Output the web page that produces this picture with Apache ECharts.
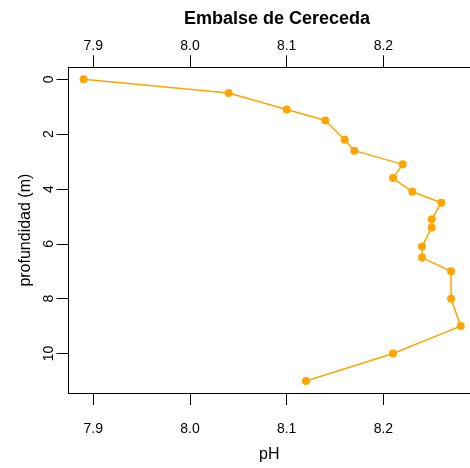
<!DOCTYPE html>
<html>
<head>
<meta charset="utf-8">
<script src="https://cdn.jsdelivr.net/npm/echarts@6/dist/echarts.min.js"></script>
<style>html,body{margin:0;padding:0;background:#fff;}#c{width:470px;height:468px;}</style>
</head>
<body>
<div id="c"></div>
<script>
const ph = [7.89, 8.04, 8.10, 8.14, 8.16, 8.17, 8.22, 8.21, 8.23, 8.26, 8.25, 8.25, 8.24, 8.24, 8.27, 8.27, 8.28, 8.21, 8.12];
const depth = [0, 0.5, 1.1, 1.5, 2.2, 2.6, 3.1, 3.6, 4.1, 4.5, 5.1, 5.4, 6.1, 6.5, 7.0, 8.0, 9.0, 10.0, 11.0];
const xTicks = [7.9, 8.0, 8.1, 8.2];
const yTicks = [0, 2, 4, 6, 8, 10];
const title = 'Embalse de Cereceda';
const xName = 'pH';
const yName = 'profundidad (m)';

const font = 'Liberation Sans, Arial, sans-serif';
const pts = ph.map((v, i) => [v, depth[i]]);
const chart = echarts.init(document.getElementById('c'), null, {renderer: 'canvas'});
const xAxisBase = {
  type: 'value', min: 7.8744, max: 8.2896,
  splitLine: {show: false},
  axisLine: {show: true, onZero: false, lineStyle: {color: '#000', width: 1}},
  axisTick: {show: true, length: 12, customValues: xTicks, lineStyle: {color: '#000'}},
  axisLabel: {customValues: xTicks, formatter: v => v.toFixed(1), color: '#000', fontFamily: font, fontSize: 14}
};
chart.setOption({
  animation: false,
  backgroundColor: '#fff',
  title: {text: title, left: 272, textAlign: 'center', top: 5,
    textStyle: {fontFamily: font, fontSize: 18, fontWeight: 'bold', color: '#000'}},
  grid: {left: 68.5, top: 67.3, right: 0, height: 326, containLabel: false},
  xAxis: [
    Object.assign({}, xAxisBase, {position: 'bottom', name: xName, nameLocation: 'middle', nameGap: 54,
      nameTextStyle: {fontFamily: font, fontSize: 16, color: '#000'},
      axisLabel: Object.assign({}, xAxisBase.axisLabel, {margin: 29})}),
    Object.assign({}, xAxisBase, {position: 'top',
      axisLabel: Object.assign({}, xAxisBase.axisLabel, {margin: 14})})
  ],
  yAxis: {
    type: 'value', inverse: true, min: -0.44, max: 11.44,
    name: yName, nameLocation: 'middle', nameGap: 35,
    nameTextStyle: {fontFamily: font, fontSize: 16, color: '#000'},
    splitLine: {show: false},
    axisLine: {show: true, onZero: false, lineStyle: {color: '#000', width: 1}},
    axisTick: {show: true, length: 12, customValues: yTicks, lineStyle: {color: '#000'}},
    axisLabel: {customValues: yTicks, rotate: 90, margin: 12.5, color: '#000', fontFamily: font, fontSize: 14}
  },
  series: [{
    type: 'line', data: pts, xAxisIndex: 0,
    symbol: 'circle', symbolSize: 8,
    lineStyle: {color: '#FFA500', width: 1.5},
    itemStyle: {color: '#FFA500'},
    clip: false
  }]
});
</script>
</body>
</html>
